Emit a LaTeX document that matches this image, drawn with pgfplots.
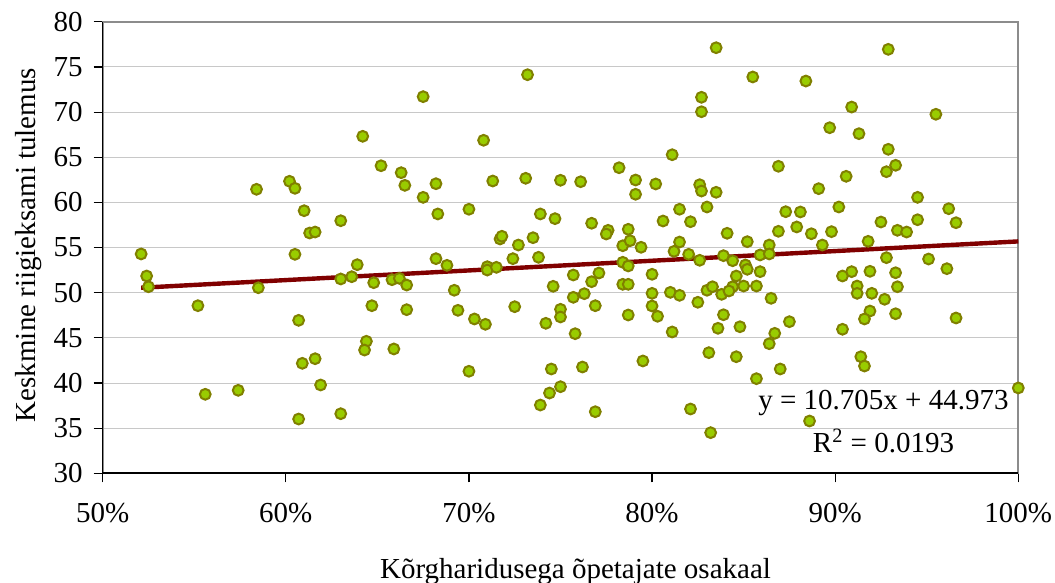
\documentclass[border=0pt]{standalone}
\usepackage{fontspec}
\setmainfont{Liberation Serif}
\usepackage{pgfplots}
\pgfplotsset{compat=1.18}
\usepackage{pgfplotstable}

\definecolor{dotfill}{HTML}{99CC00}
\definecolor{dotedge}{HTML}{808000}
\definecolor{trend}{HTML}{800000}
\definecolor{gridgray}{HTML}{C8C8C8}
\definecolor{framegray}{HTML}{8C8C8C}

% share of teachers with higher education vs. mean state exam score, one row per school
\pgfplotstableread{
x y
0.521 54.29
0.524 51.85
0.525 50.66
0.552 48.56
0.556 38.75
0.574 39.19
0.585 50.55
0.605 54.25
0.607 46.94
0.609 42.18
0.607 36.01
0.616 42.69
0.619 39.78
0.630 36.60
0.630 51.52
0.636 51.77
0.639 53.10
0.648 51.11
0.647 48.56
0.644 44.62
0.643 43.65
0.658 51.44
0.659 43.77
0.662 51.59
0.666 50.85
0.666 48.12
0.584 61.45
0.602 62.34
0.605 61.56
0.610 59.08
0.613 56.61
0.616 56.72
0.630 57.97
0.642 67.32
0.652 64.06
0.663 63.29
0.665 61.89
0.675 71.71
0.675 60.56
0.682 62.07
0.683 58.72
0.700 59.24
0.708 66.88
0.713 62.37
0.717 55.95
0.718 56.25
0.727 55.28
0.732 74.14
0.731 62.67
0.735 56.09
0.739 58.72
0.747 58.20
0.750 62.45
0.761 62.29
0.767 57.69
0.776 56.91
0.775 56.50
0.782 63.84
0.787 57.02
0.784 55.20
0.788 55.76
0.794 55.03
0.791 62.48
0.791 60.90
0.802 62.04
0.806 57.94
0.811 65.28
0.815 59.24
0.815 55.61
0.821 57.86
0.827 71.64
0.827 70.04
0.826 61.96
0.827 61.26
0.830 59.49
0.835 77.13
0.855 73.89
0.884 73.44
0.929 76.95
0.909 70.56
0.897 68.27
0.913 67.61
0.955 69.76
0.929 65.88
0.933 64.11
0.928 63.40
0.869 64.00
0.906 62.89
0.835 61.12
0.891 61.52
0.902 59.49
0.945 60.56
0.962 59.30
0.966 57.75
0.873 58.97
0.881 58.94
0.841 56.58
0.852 55.65
0.864 55.28
0.869 56.80
0.879 57.28
0.887 56.53
0.898 56.76
0.893 55.28
0.918 55.69
0.925 57.83
0.934 56.91
0.939 56.72
0.945 58.08
0.682 53.77
0.688 53.03
0.692 50.27
0.694 48.05
0.703 47.09
0.709 46.50
0.700 41.30
0.710 52.88
0.710 52.51
0.715 52.81
0.724 53.77
0.725 48.45
0.738 53.92
0.742 46.61
0.746 50.71
0.750 48.16
0.750 47.31
0.745 41.55
0.744 38.89
0.739 37.56
0.750 39.59
0.757 51.96
0.757 49.49
0.758 45.46
0.763 49.89
0.762 41.77
0.767 51.22
0.771 52.18
0.769 48.56
0.769 36.82
0.784 53.37
0.787 52.96
0.784 50.93
0.787 50.93
0.787 47.53
0.795 42.44
0.800 52.04
0.800 49.93
0.800 48.53
0.803 47.39
0.810 50.04
0.815 49.71
0.811 45.65
0.812 54.58
0.820 54.25
0.826 53.59
0.825 48.94
0.830 50.27
0.821 37.12
0.831 43.36
0.832 34.50
0.839 54.10
0.844 53.54
0.859 54.18
0.864 54.29
0.851 53.07
0.852 52.59
0.846 51.85
0.859 52.33
0.833 50.66
0.844 50.66
0.850 50.74
0.857 50.74
0.838 49.82
0.842 50.19
0.865 49.38
0.839 47.56
0.836 46.06
0.848 46.23
0.875 46.79
0.867 45.50
0.864 44.35
0.846 42.91
0.870 41.55
0.857 40.48
0.886 35.79
0.904 51.85
0.909 52.33
0.919 52.37
0.928 53.88
0.933 52.21
0.951 53.73
0.961 52.66
0.912 50.74
0.912 49.93
0.920 49.93
0.934 50.66
0.927 49.27
0.919 47.97
0.916 47.09
0.933 47.67
0.904 45.95
0.966 47.20
0.914 42.91
0.916 41.88
1.000 39.45
}\schools

\begin{document}
\begin{tikzpicture}[font=\fontsize{14.5}{17}\selectfont]
\begin{axis}[
  scale only axis,
  width=457.8pt, height=225.75pt,
  xmin=0.5, xmax=1, ymin=30, ymax=80,
  xtick={0.5,0.6,0.7,0.8,0.9,1},
  xticklabels={50\%,60\%,70\%,80\%,90\%,100\%},
  ytick={30,35,...,80},
  ymajorgrids,
  major grid style={gridgray, line width=0.5pt},
  axis line style={framegray, line width=1pt},
  tick align=outside,
  xtick pos=bottom, ytick pos=left,
  major tick length=4.5pt,
  tick style={black, line width=0.6pt},
  /pgf/number format/assume math mode=true,
  yticklabel style={xshift=-2pt},
  xticklabel style={yshift=-7pt},
  xlabel={Kõrgharidusega õpetajate osakaal},
  ylabel={Keskmine riigieksami tulemus},
  xlabel style={at={(axis description cs:0.5164,-0.2319)}, anchor=base},
  ylabel style={at={(axis description cs:-0.0739,0.5056)}, anchor=base},
  clip=false,
]
\addplot[only marks, mark=*, mark size=2.7pt,
  mark options={fill=dotfill, draw=dotedge, line width=1pt}]
  table[x=x, y=y] {\schools};
% linear trend y = 10.705x + 44.973 over the observed range
\addplot[trend, line width=2.2pt] coordinates {(0.521,50.55) (1.0,55.68)};
\draw[black, line width=0.8pt] (rel axis cs:0,1) -- (rel axis cs:0,0) -- (rel axis cs:1,0);
\node[anchor=base] at (axis cs:0.9264,37.09) {y = 10.705x + 44.973};
\node[anchor=base] at (axis cs:0.9264,32.28) {R\textsuperscript{2} = 0.0193};
\end{axis}
\pgfresetboundingbox
\path[use as bounding box] (-51.35pt,-54.85pt) rectangle (476.15pt,236.65pt);
\end{tikzpicture}
\end{document}
